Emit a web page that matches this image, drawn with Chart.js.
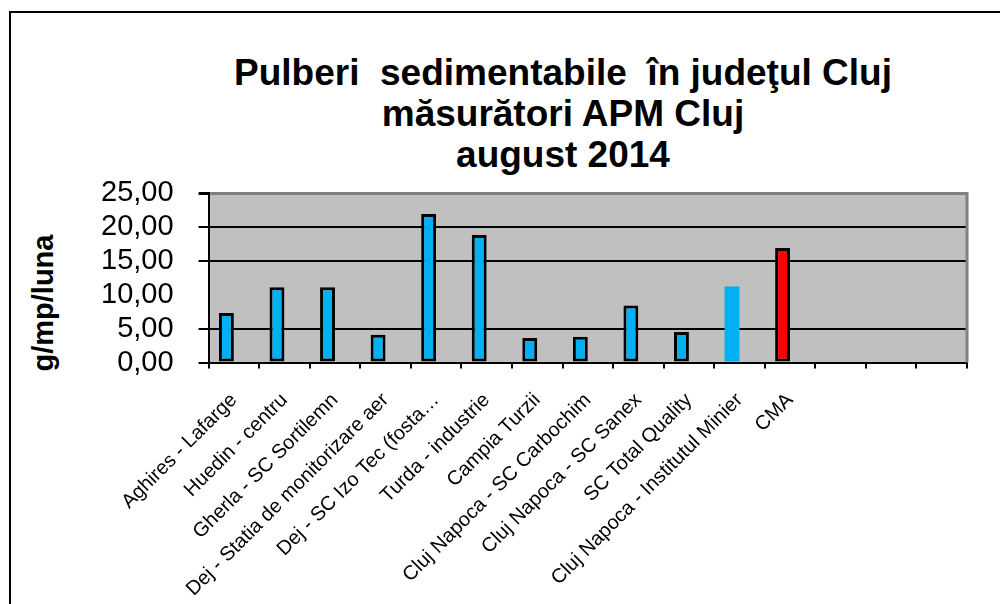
<!DOCTYPE html>
<html>
<head>
<meta charset="utf-8">
<script src="https://cdn.jsdelivr.net/npm/chart.js@4"></script>
<style>
  body { margin: 0; width: 1000px; height: 604px; overflow: hidden; position: relative; background: #fff; font-family: "Liberation Sans", Arial, sans-serif; }
  #frame { position: absolute; left: 9px; top: 11px; width: 1100px; height: 700px; border: 2px solid #000; }
  #title { position: absolute; left: 113px; top: 52px; width: 900px; text-align: center; font-weight: bold; font-size: 37px; line-height: 41px; color: #000; white-space: pre; }
  #ytitle { position: absolute; left: -57px; top: 286px; width: 200px; height: 34px; line-height: 34px; text-align: center; font-weight: bold; font-size: 29px; transform: rotate(-90deg); }
  canvas { position: absolute; left: 0; top: 0; }
</style>
</head>
<body>
<div id="frame"></div>
<div id="title"></div>
<div id="ytitle"></div>
<canvas id="myChart" width="1000" height="604"></canvas>
<script>
  const titleLines = ['Pulberi  sedimentabile  în judeţul Cluj', 'măsurători APM Cluj', 'august 2014'];
  const yTitle = 'g/mp/luna';

  const stations = [
    'Aghires - Lafarge',
    'Huedin - centru',
    'Gherla - SC Sortilemn',
    'Dej - Statia de monitorizare aer',
    'Dej - SC Izo Tec (fosta…',
    'Turda - industrie',
    'Campia Turzii',
    'Cluj Napoca - SC Carbochim',
    'Cluj Napoca - SC Sanex',
    'SC Total Quality',
    'Cluj Napoca - Institutul Minier',
    'CMA',
    '', '', ''
  ];
  const values = [7.3, 11.1, 11.1, 4.1, 21.9, 18.8, 3.6, 3.8, 8.4, 4.5, 11.2, 16.9, null, null, null];
  // second (empty) series of the original sheet, keeps the bars left of the tick centre
  const emptySeries = [null, null, null, null, null, null, null, null, null, null, null, null, null, null, null];
  const yTicks = [0, 5, 10, 15, 20, 25];

  document.getElementById('title').textContent = titleLines.join('\n');
  document.getElementById('ytitle').textContent = yTitle;

  const CMA_INDEX = 11;
  const NO_BORDER_INDEX = 10;

  // gray plot area + right border
  const plotBg = {
    id: 'plotBg',
    beforeDraw(chart) {
      const { ctx, chartArea: a } = chart;
      ctx.save();
      ctx.fillStyle = '#c0c0c0';
      ctx.fillRect(a.left, a.top, a.right - a.left, a.bottom - a.top);
      ctx.restore();
    },
    afterDraw(chart) {
      const { ctx, chartArea: a } = chart;
      ctx.save();
      ctx.strokeStyle = '#808080';
      ctx.lineWidth = 3;
      ctx.beginPath();
      ctx.moveTo(a.right, a.top - 1);
      ctx.lineTo(a.right, a.bottom);
      ctx.stroke();
      ctx.restore();
    }
  };

  const data = {
    labels: stations,
    datasets: [{
      data: values,
      backgroundColor: ctx => ctx.dataIndex === CMA_INDEX ? '#ff0000' : '#00b0f0',
      borderColor: '#000',
      borderWidth: ctx => ctx.dataIndex === NO_BORDER_INDEX ? 0 : 3,
      borderSkipped: false
    }, {
      data: emptySeries,
      backgroundColor: '#00b0f0'
    }]
  };

  const config = {
    type: 'bar',
    data,
    plugins: [plotBg],
    options: {
      responsive: false,
      animation: false,
      datasets: { bar: { barPercentage: 1, categoryPercentage: 0.59 } },
      layout: { padding: { top: 193, left: 76, right: 33, bottom: 0 } },
      plugins: { legend: { display: false }, tooltip: { enabled: false }, title: { display: false } },
      scales: {
        x: {
          // layout caps the axis at half the height; the long rotated labels need more
          afterFit: s => { s.height += 36; },
          grid: { drawOnChartArea: false, drawTicks: true, tickLength: 6, color: '#000', lineWidth: 2 },
          border: { display: true, color: '#000', width: 2 },
          ticks: {
            autoSkip: false, minRotation: 45, maxRotation: 45, padding: 20, labelOffset: 0,
            color: '#000', font: { family: '"Liberation Sans", Arial', size: 20 }
          }
        },
        y: {
          min: 0, max: 25,
          afterBuildTicks: axis => { axis.ticks = yTicks.map(v => ({ value: v })); },
          grid: {
            color: ctx => ctx.tick.value === 25 ? '#808080' : (ctx.tick.value === 10 ? 'rgba(0,0,0,0)' : '#000'),
            tickColor: ctx => ctx.tick.value === 10 ? 'rgba(0,0,0,0)' : '#000',
            lineWidth: ctx => ctx.tick.value === 25 ? 3 : (ctx.tick.value === 10 ? 0 : 2),
            tickLength: 10
          },
          border: { display: true, color: '#000', width: 2 },
          ticks: {
            autoSkip: false, padding: 25, color: '#000',
            font: { family: '"Liberation Sans", Arial', size: 29 },
            callback: v => v.toFixed(2).replace('.', ',')
          }
        }
      }
    }
  };

  const myChart = new Chart(document.getElementById('myChart'), config);
</script>
</body>
</html>
